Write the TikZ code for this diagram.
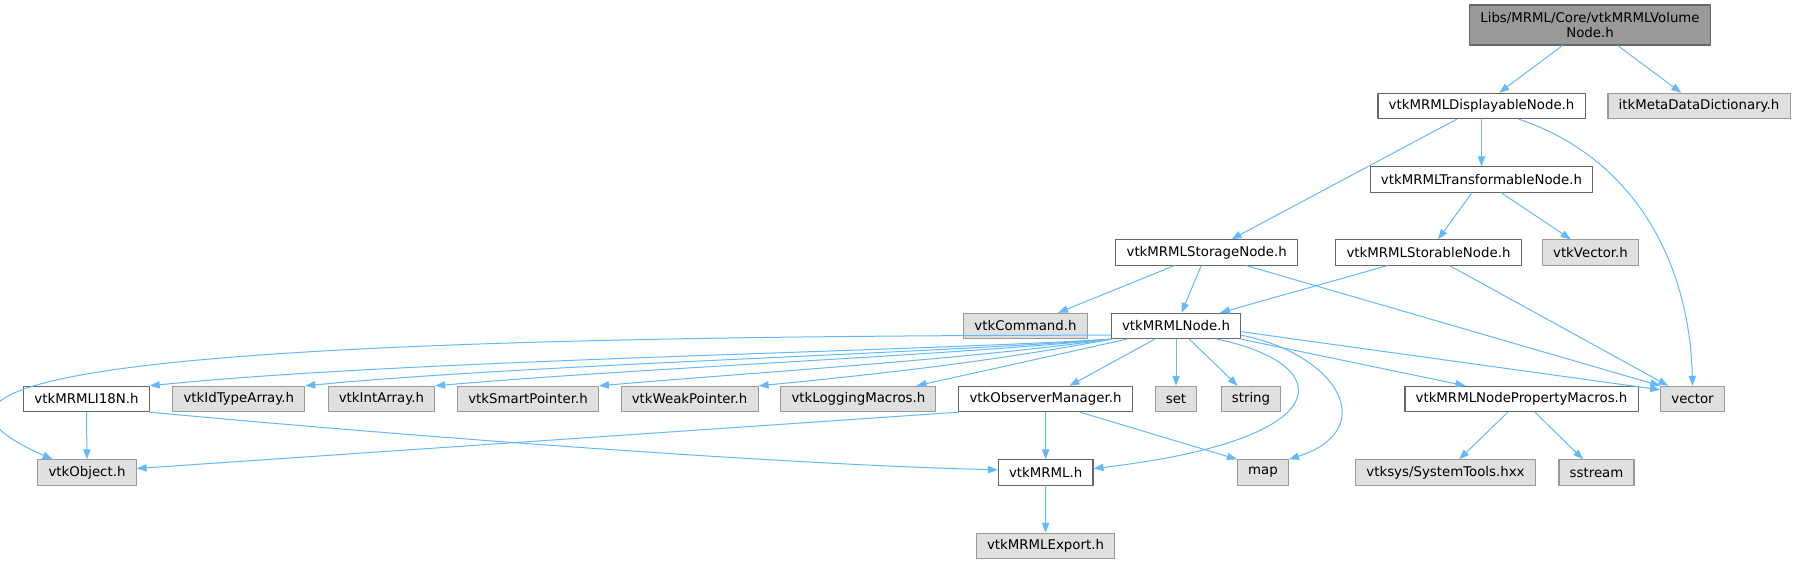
\documentclass[tikz,border=0pt]{standalone}
\usepackage{fontspec}
\setmainfont{DejaVu Sans}
\usetikzlibrary{arrows.meta}
\definecolor{edgeblue}{HTML}{63B8FF}
\definecolor{extfill}{HTML}{E0E0E0}
\definecolor{extline}{HTML}{999999}
\definecolor{docline}{HTML}{666666}
\definecolor{rootfill}{HTML}{999999}
\begin{document}
\begin{tikzpicture}[line cap=round,line join=round,>={Triangle[length=7.5pt,width=5.5pt]},x=0.75pt,y=-0.75pt,
  hdr/.style={draw=docline,fill=white,line width=0.8pt,minimum height=19pt,inner xsep=8pt,inner ysep=2pt,font=\fontsize{10}{11}\selectfont},
  syshdr/.style={hdr,draw=extline,fill=extfill},
  mainhdr/.style={hdr,fill=rootfill,minimum height=30pt,align=center},
  incl/.style={->,draw=edgeblue,line width=0.75pt}]
\clip(0,0) rectangle (1794,564);
\node[mainhdr] (vol) at (1590,25) {Libs/MRML/Core/vtkMRMLVolume\\Node.h};
\node[hdr] (disp) at (1481.5,106) {vtkMRMLDisplayableNode.h};
\node[syshdr] (itk) at (1699,106) {itkMetaDataDictionary.h};
\node[hdr] (transf) at (1481.5,179.5) {vtkMRMLTransformableNode.h};
\node[hdr] (storage) at (1206.7,252.5) {vtkMRMLStorageNode.h};
\node[hdr] (storable) at (1428.5,252.5) {vtkMRMLStorableNode.h};
\node[syshdr] (vecth) at (1590.5,252.5) {vtkVector.h};
\node[syshdr] (command) at (1025.5,326) {vtkCommand.h};
\node[hdr] (mrmlnode) at (1176,326) {vtkMRMLNode.h};
\node[hdr] (i18n) at (86.5,399) {vtkMRMLI18N.h};
\node[syshdr] (idtype) at (238.8,399) {vtkIdTypeArray.h};
\node[syshdr] (intarr) at (381.4,399) {vtkIntArray.h};
\node[syshdr] (smartptr) at (528,399) {vtkSmartPointer.h};
\node[syshdr] (weakptr) at (689.6,399) {vtkWeakPointer.h};
\node[syshdr] (logging) at (858.4,399) {vtkLoggingMacros.h};
\node[hdr] (obsman) at (1045.5,399) {vtkObserverManager.h};
\node[syshdr] (set) at (1176,399) {set};
\node[syshdr] (string) at (1251,399) {string};
\node[hdr] (propmacros) at (1521.5,399) {vtkMRMLNodePropertyMacros.h};
\node[syshdr] (vector) at (1692.5,399) {vector};
\node[syshdr] (object) at (87,472.5) {vtkObject.h};
\node[hdr] (mrml) at (1045.7,472.5) {vtkMRML.h};
\node[syshdr] (map) at (1263,472.5) {map};
\node[syshdr] (systools) at (1445.5,472.5) {vtksys/SystemTools.hxx};
\node[syshdr] (sstream) at (1596.5,472.5) {sstream};
\node[syshdr] (export) at (1045.5,546) {vtkMRMLExport.h};
\draw[incl] (vol) -- (disp);
\draw[incl] (vol) -- (itk);
\draw[incl] (disp) -- (storage);
\draw[incl] (disp) -- (transf);
\draw[incl] ([xshift=28pt]disp.south) .. controls (1640,160) and (1690,270) .. (vector.north);
\draw[incl] (transf) -- (storable);
\draw[incl] (transf) -- (vecth);
\draw[incl] (storage) -- (command);
\draw[incl] (storage) -- (mrmlnode);
\draw[incl] ([xshift=30pt]storage.south) -- (vector.north west);
\draw[incl] ([xshift=-31pt]storable.south) -- ([xshift=33pt]mrmlnode.north);
\draw[incl] ([xshift=16pt]storable.south) -- ([xshift=6pt]vector.north west);
\draw[incl] (mrmlnode.188) .. controls (200,336) and (-150,370) .. (object.159);
\draw[incl] (mrmlnode.south west) .. controls (900,352) and (400,360) .. (i18n.north east);
\draw[incl] (mrmlnode.south west) .. controls (920,354) and (520,365) .. (idtype.north east);
\draw[incl] (mrmlnode.south west) .. controls (940,356) and (640,368) .. (intarr.north east);
\draw[incl] (mrmlnode.south west) .. controls (960,360) and (760,372) .. (smartptr.north east);
\draw[incl] (mrmlnode.south west) .. controls (990,362) and (870,375) .. (weakptr.north east);
\draw[incl] ([xshift=12pt]mrmlnode.south west) -- ([xshift=-15pt]logging.north east);
\draw[incl] ([xshift=-16pt]mrmlnode.south) -- ([xshift=18pt]obsman.north);
\draw[incl] (mrmlnode) -- (set);
\draw[incl] ([xshift=10pt]mrmlnode.south) -- ([xshift=-10pt]string.north);
\draw[incl] ([xshift=31pt]mrmlnode.south) .. controls (1340,365) and (1340,440) .. ([yshift=3pt]mrml.east);
\draw[incl] (mrmlnode.-8) .. controls (1340,355) and (1380,430) .. (map.north east);
\draw[incl] (mrmlnode.south east) -- ([xshift=-42pt]propmacros.north);
\draw[incl] (mrmlnode.-5) -- ([yshift=-3pt]vector.north west);
\draw[incl] (i18n) -- (object);
\draw[incl] (i18n.south east) .. controls (450,440) and (800,465) .. ([yshift=2pt]mrml.west);
\draw[incl] (obsman.south west) -- ([yshift=3pt]object.east);
\draw[incl] (obsman) -- (mrml);
\draw[incl] ([xshift=26pt]obsman.south) -- (map.north west);
\draw[incl] (mrml) -- (export);
\draw[incl] (propmacros) -- (systools);
\draw[incl] (propmacros) -- (sstream);
\end{tikzpicture}
\end{document}
